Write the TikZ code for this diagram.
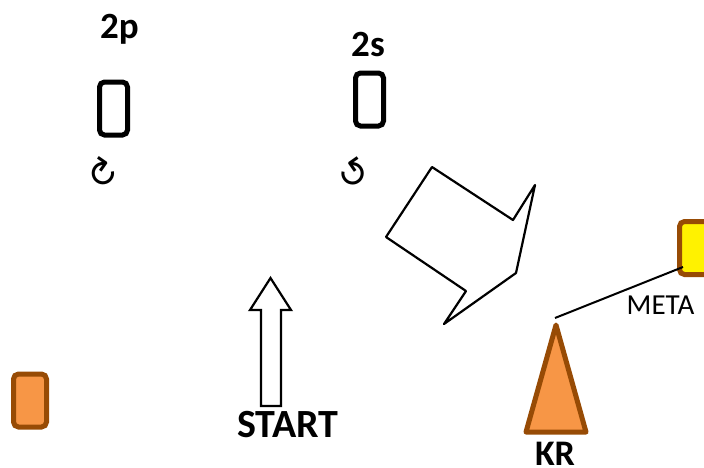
\documentclass[tikz,border=0pt]{standalone}
\usepackage{fontspec}
\setmainfont{Carlito}
\newfontfamily\symfont{DejaVu Sans}
\definecolor{edgebrown}{HTML}{974B05}
\definecolor{fillorange}{HTML}{F79646}
\tikzset{
  darkbox/.style={draw=black,line width=5pt,rounded corners=5pt,fill=white,minimum width=28pt,minimum height=53pt,inner sep=0pt},
  brownbox/.style={draw=edgebrown,line width=5pt,rounded corners=5pt,minimum height=53pt,inner sep=0pt},
  outline/.style={draw=black,line width=2.2pt,line join=miter},
  boldlabel/.style={font=\fontsize{37}{37}\selectfont\bfseries,inner sep=0pt},
  metalabel/.style={font=\fontsize{29}{29}\selectfont,inner sep=0pt},
  turn/.style={font=\fontsize{37}{37}\selectfont\symfont,inner sep=0pt}
}
\begin{document}
\begin{tikzpicture}[x=1pt,y=-1pt]
\useasboundingbox (0,0) rectangle (704,467);
\node[boldlabel] (lp) at (119.5,29) {2p};
\node[boldlabel] (ls) at (368,44) {2s};
\node[darkbox] (bp) at (113.5,108.5) {};
\node[darkbox] (bs) at (369.5,99.5) {};
\node[turn,rotate=-35] (tp) at (102,174) {↻};
\node[turn,rotate=35] (ts) at (354,174) {↺};
\draw[outline,line join=round] (432,167) -- (513,220) -- (535,185) -- (516,273) -- (444,324) -- (466,291) -- (386,237) -- cycle;
\draw[outline] (261,406) -- (281,406) -- (281,310) -- (291,310) -- (270.5,278) -- (250,310) -- (261,310) -- cycle;
\node[boldlabel,font=\fontsize{40}{40}\selectfont\bfseries] (start) at (288,425) {START};
\node[brownbox,fill=fillorange,minimum width=33pt] (or) at (30,400.5) {};
\node[brownbox,fill=yellow,minimum width=40pt] (ye) at (699.5,248) {};
\draw[draw=edgebrown,fill=fillorange,line width=5pt,line join=round] (526,432) -- (586,432) -- (556,325) -- cycle;
\coordinate (apex) at (555,318);
\coordinate (yeend) at (683,267);
\draw[black,line width=2pt] (apex) -- (yeend);
\node[metalabel] (meta) at (660.5,305) {META};
\node[boldlabel,font=\fontsize{36}{36}\selectfont\bfseries] (kr) at (555,454) {KR};
\end{tikzpicture}
\end{document}
